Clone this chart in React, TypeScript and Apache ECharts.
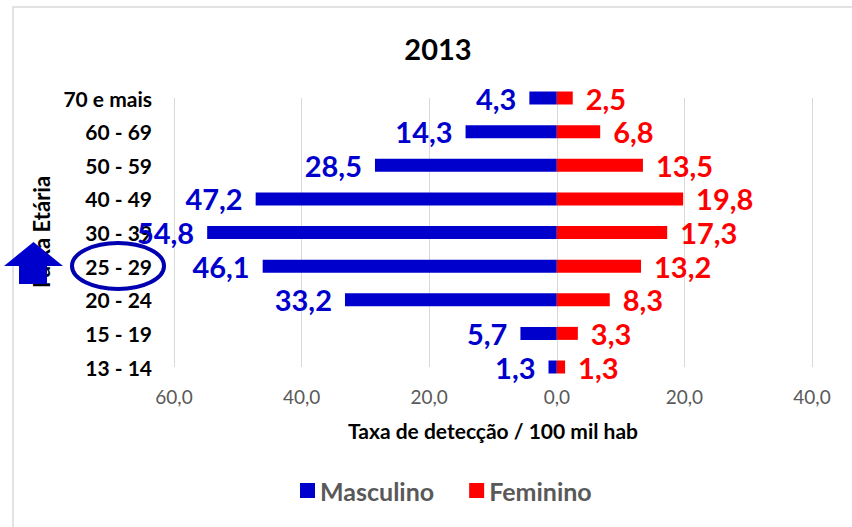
import React, { useEffect, useRef } from "react";
import * as echarts from "echarts";

const categories = ["13 - 14", "15 - 19", "20 - 24", "25 - 29", "30 - 39", "40 - 49", "50 - 59", "60 - 69", "70 e mais"];
const masculino = [1.3, 5.7, 33.2, 46.1, 54.8, 47.2, 28.5, 14.3, 4.3];
const feminino = [1.3, 3.3, 8.3, 13.2, 17.3, 19.8, 13.5, 6.8, 2.5];
const seriesNames = ["Masculino", "Feminino"];
const titleText = "2013";
const xAxisName = "Taxa de detecção / 100 mil hab";
const yAxisName = "Faixa Etária";

const BLUE = "#0000cc";
const RED = "#ff0000";
const FONT = "Lato";

const fmt = (v: number) => Math.abs(v).toFixed(1).replace(".", ",");

export default function App() {
  const ref = useRef<HTMLDivElement>(null);
  useEffect(() => {
    if (!ref.current) return;
    const chart = echarts.init(ref.current, undefined, { renderer: "svg" });
    chart.setOption({
      animation: false,
      backgroundColor: "#ffffff",
      title: {
        text: titleText,
        left: 433,
        top: 29,
        textAlign: "center",
        textStyle: { fontFamily: FONT, fontWeight: "bold", fontSize: 29, color: "#000" },
      },
      legend: {
        data: seriesNames,
        left: 295,
        top: 473,
        icon: "rect",
        itemWidth: 15,
        itemHeight: 15,
        itemGap: 35,
        textStyle: { fontFamily: FONT, fontWeight: "bold", fontSize: 25, color: "#595959" },
      },
      grid: { left: 174, right: 40, top: 98, bottom: 160, containLabel: false },
      xAxis: {
        type: "value",
        min: -60,
        max: 40,
        interval: 20,
        name: xAxisName,
        nameLocation: "middle",
        nameGap: 53,
        nameTextStyle: { fontFamily: FONT, fontWeight: "bold", fontSize: 21, color: "#000", verticalAlign: "top" },
        axisLine: { show: false },
        axisTick: { show: false },
        axisLabel: {
          formatter: (v: number) => fmt(v),
          fontFamily: FONT,
          fontSize: 19,
          color: "#595959",
          margin: 20,
        },
        splitLine: { show: true, lineStyle: { color: "#d9d9d9", width: 1 } },
      },
      yAxis: {
        type: "category",
        data: categories,
        boundaryGap: false,
        axisLine: { show: false, onZero: false },
        axisTick: { show: false },
        splitLine: { show: false },
        axisLabel: {
          fontFamily: FONT,
          fontWeight: "bold",
          fontSize: 21,
          color: "#000",
          margin: 22,
        },
      },
      series: [
        {
          name: seriesNames[0],
          type: "bar",
          data: masculino.map((v) => -v),
          barWidth: 13,
          barGap: "-100%",
          itemStyle: { color: BLUE },
          label: {
            show: true,
            position: "left",
            distance: 13,
            formatter: (p: any) => fmt(p.value),
            fontFamily: FONT,
            fontWeight: "bold",
            fontSize: 29,
            color: BLUE,
          },
          z: 3,
        },
        {
          name: seriesNames[1],
          type: "bar",
          data: feminino,
          barWidth: 13,
          barGap: "-100%",
          itemStyle: { color: RED },
          label: {
            show: true,
            position: "right",
            distance: 13,
            formatter: (p: any) => fmt(p.value),
            fontFamily: FONT,
            fontWeight: "bold",
            fontSize: 29,
            color: RED,
          },
          z: 3,
        },
      ],
      graphic: [
        {
          type: "rect",
          shape: { x: 13, y: 7, width: 900, height: 600 },
          style: { fill: "none", stroke: "#d9d9d9", lineWidth: 1.5 },
          z: -1,
          silent: true,
        },
        {
          type: "text",
          x: 41,
          y: 232,
          rotation: Math.PI / 2,
          style: {
            text: yAxisName,
            fontFamily: FONT,
            fontWeight: "bold",
            fontSize: 22,
            fill: "#000",
            align: "center",
            verticalAlign: "middle",
          },
          z: 5,
        },
        {
          type: "polygon",
          shape: {
            points: [
              [33.5, 242],
              [63, 266],
              [47, 266],
              [47, 284],
              [19, 284],
              [19, 266],
              [4, 266],
            ],
          },
          style: { fill: "#0000cc" },
          z: 10,
        },
        {
          type: "ellipse",
          shape: { cx: 118, cy: 266, rx: 46, ry: 23 },
          style: { fill: "none", stroke: "#0000b0", lineWidth: 4 },
          z: 10,
        },
      ],
    });
    return () => chart.dispose();
  }, []);
  return (
    <div
      ref={ref}
      style={{ position: "absolute", left: 0, top: 0, width: 852, height: 527 }}
    />
  );
}
